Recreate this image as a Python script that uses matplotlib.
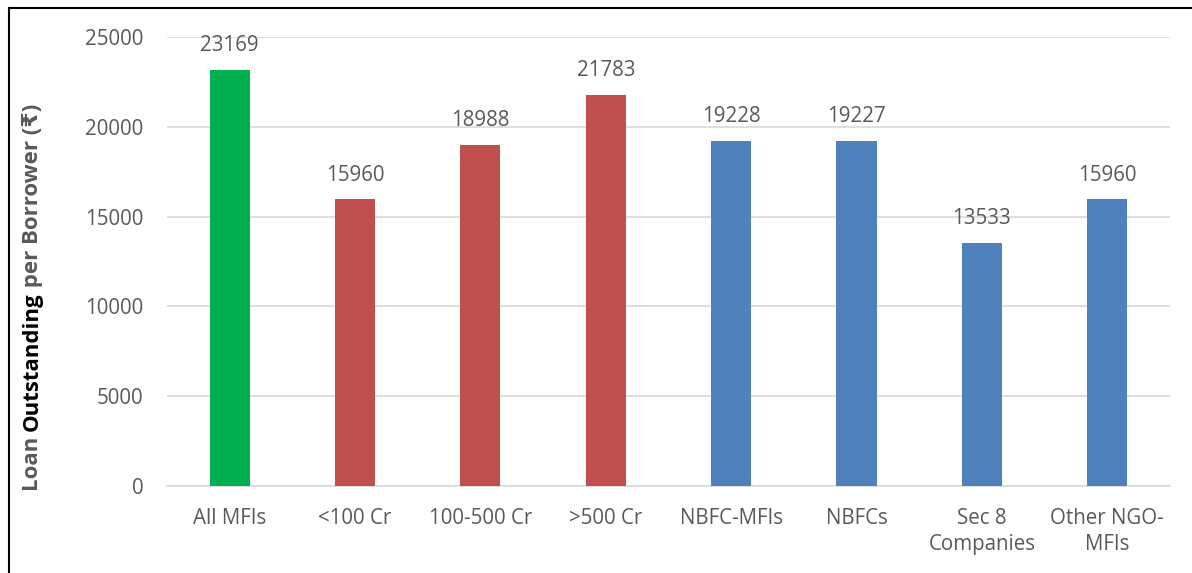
import matplotlib
matplotlib.use("Agg")
import matplotlib.pyplot as plt
from matplotlib.lines import Line2D

categories = ["All MFIs", "<100 Cr", "100-500 Cr", ">500 Cr", "NBFC-MFIs",
              "NBFCs", "Sec 8\nCompanies", "Other NGO-\nMFIs"]
values = [23169, 15960, 18988, 21783, 19228, 19227, 13533, 15960]
groups = ["all", "size", "size", "size", "type", "type", "type", "type"]
yticks = [0, 5000, 10000, 15000, 20000, 25000]

GROUP_COLORS = {"all": "#00B050", "size": "#C0504D", "type": "#4F81BD"}
TEXT = "#595959"
GRID = "#D9D9D9"
FONT = ["Open Sans", "DejaVu Sans"]
FS = 14.8

plt.rcParams["font.family"] = FONT

fig = plt.figure(figsize=(11.92, 5.73), dpi=100)
ax = fig.add_axes([0.1401, 0.1518, 0.8414, 0.7836])

x = range(len(categories))
colors = [GROUP_COLORS[g] for g in groups]
bars = ax.bar(x, values, width=0.32, color=colors, zorder=3)

for bar, v in zip(bars, values):
    ax.annotate(str(v), (bar.get_x() + bar.get_width() / 2, v),
                xytext=(0, 13.5), textcoords="offset points",
                ha="center", va="baseline", fontsize=FS, color=TEXT)

ax.set_xlim(-0.5, len(categories) - 0.5)
ax.set_ylim(0, 25000)
ax.set_yticks(yticks)
ax.set_xticks(list(x))
ax.set_xticklabels(categories, linespacing=1.3)
ax.tick_params(axis="y", length=0, pad=17, labelsize=FS, labelcolor=TEXT)
ax.tick_params(axis="x", length=0, pad=16, labelsize=FS, labelcolor=TEXT)
ax.grid(axis="y", color=GRID, linewidth=1.2, zorder=0)
for side in ("top", "right", "left"):
    ax.spines[side].set_visible(False)
ax.spines["bottom"].set_color(GRID)
ax.spines["bottom"].set_linewidth(1.2)

# y-axis title in three pieces: only "Outstanding" is black
pieces = [("Loan ", TEXT), ("Outstanding", "black"), (" per Borrower (₹)", TEXT)]
texts = [fig.text(0.027, 0, s, rotation=90, fontsize=16, fontweight="bold",
                  color=c, ha="center", va="bottom")
         for s, c in pieces]
fig.canvas.draw()
renderer = fig.canvas.get_renderer()
heights = [t.get_window_extent(renderer).height for t in texts]
H = fig.bbox.height
y0 = 0.481 * H - sum(heights) / 2
for t, h in zip(texts, heights):
    t.set_position((0.027, y0 / H))
    y0 += h

# outer frame (left and top edges)
fig.add_artist(Line2D([0.0075, 0.0075], [0, 0.986], transform=fig.transFigure,
                      color="black", linewidth=1.5))
fig.add_artist(Line2D([0.0075, 1.0], [0.986, 0.986], transform=fig.transFigure,
                      color="black", linewidth=1.5))

fig.savefig("out.png", dpi=100)
